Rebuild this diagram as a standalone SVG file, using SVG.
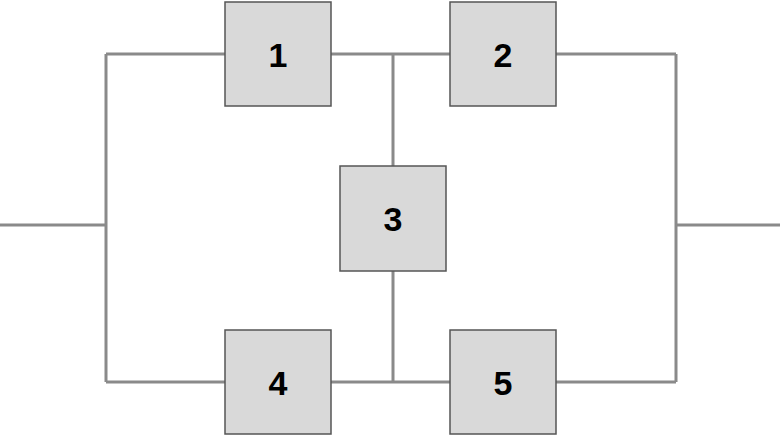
<svg xmlns="http://www.w3.org/2000/svg" width="780" height="439" viewBox="0 0 780 439">
<style>
.w{stroke:#8a8a8a;stroke-width:3;fill:none}
.b{fill:#d9d9d9;stroke:#555;stroke-width:1.5}
.t{font-family:"Liberation Sans",Arial,sans-serif;font-weight:bold;font-size:34px;fill:#000;text-anchor:middle;dominant-baseline:central}
</style>
<rect width="780" height="439" fill="#fff"/>
<g id="connectors">
<path class="w" d="M0 225H106M106 54V382M106 54H225M106 382H225M331 54H450M393 54V166M393 271V382M331 382H450M556 54H676M556 382H676M676 54V382M676 225H780"/>
</g>
<g id="n1"><rect class="b" x="225" y="2" width="106" height="104"/><text class="t" x="278" y="55">1</text></g>
<g id="n2"><rect class="b" x="450" y="2" width="106" height="104"/><text class="t" x="503" y="55">2</text></g>
<g id="n3"><rect class="b" x="340" y="166" width="106" height="105"/><text class="t" x="393" y="219">3</text></g>
<g id="n4"><rect class="b" x="225" y="330" width="106" height="104"/><text class="t" x="278" y="383">4</text></g>
<g id="n5"><rect class="b" x="450" y="330" width="106" height="104"/><text class="t" x="503" y="383">5</text></g>
</svg>
